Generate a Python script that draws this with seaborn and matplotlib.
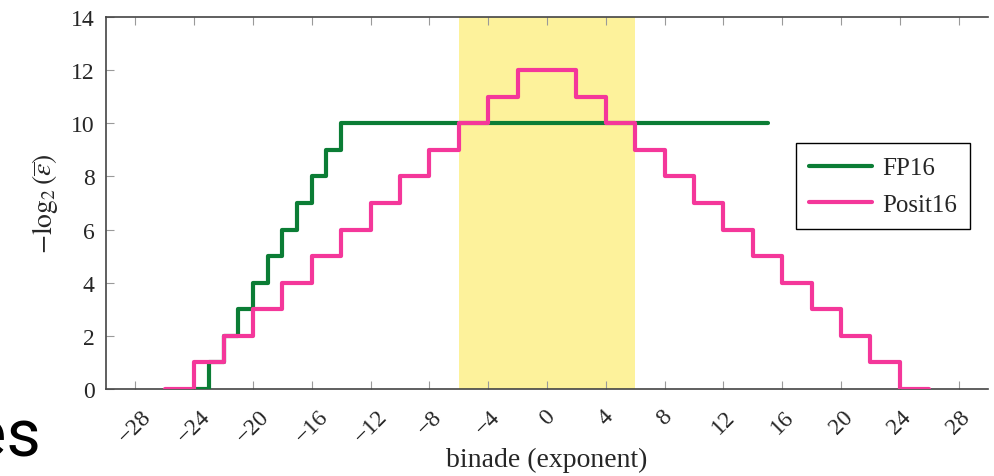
import matplotlib
matplotlib.use("Agg")
import matplotlib.pyplot as plt
import seaborn as sns
import pandas as pd

# ---- data ----
fp16_binade = [-24, -23, -22, -21, -20, -19, -18, -17, -16, -15, -14, 15]
fp16_bits = [0, 1, 2, 3, 4, 5, 6, 7, 8, 9, 10, 10]

posit16_binade = [-26, -24, -22, -20, -18, -16, -14, -12, -10, -8, -6, -4, -2,
                  2, 4, 6, 8, 10, 12, 14, 16, 18, 20, 22, 24, 26]
posit16_bits = [0, 1, 2, 3, 4, 5, 6, 7, 8, 9, 10, 11, 12,
                11, 10, 9, 8, 7, 6, 5, 4, 3, 2, 1, 0, 0]

highlight_range = [-6, 6]
x_ticks = list(range(-28, 29, 4))
y_ticks = list(range(0, 15, 2))
series_names = ["FP16", "Posit16"]
colors = {"FP16": "#0b7d35", "Posit16": "#f4379a"}

df = pd.concat([
    pd.DataFrame({"binade": fp16_binade, "bits": fp16_bits, "format": "FP16"}),
    pd.DataFrame({"binade": posit16_binade, "bits": posit16_bits, "format": "Posit16"}),
], ignore_index=True)

sns.set_theme(style="white")
plt.rcParams["font.family"] = ["Liberation Serif", "DejaVu Serif"]
plt.rcParams["mathtext.fontset"] = "stix"

fig = plt.figure(figsize=(9.94, 4.77), dpi=100)
ax = fig.add_axes([0.1066, 0.1824, 0.8874, 0.7796])

ax.axvspan(highlight_range[0], highlight_range[1], color="#fdf29b", lw=0, zorder=0)

sns.lineplot(data=df, x="binade", y="bits", hue="format", hue_order=series_names,
             palette=colors, drawstyle="steps-post", linewidth=3.0, ax=ax,
             sort=False, estimator=None, zorder=3)

ax.set_xlim(-30, 30)
ax.set_ylim(0, 14)
ax.set_xticks(x_ticks)
ax.set_xticklabels([("\u2212%d" % -t) if t < 0 else str(t) for t in x_ticks],
                   rotation=45, ha="center", va="top", fontsize=17)
ax.set_yticks(y_ticks)
ax.set_yticklabels([str(t) for t in y_ticks], fontsize=17)

ax.tick_params(axis="x", which="both", direction="in", top=True, bottom=True,
               length=6, width=0.8, color="#9a9a9a", pad=12)
ax.tick_params(axis="y", which="both", direction="in", left=True, right=False,
               length=6, width=0.8, color="#9a9a9a", pad=8)

for side in ["left", "top", "bottom"]:
    ax.spines[side].set_color("#444444")
    ax.spines[side].set_linewidth(1.2)
ax.spines["right"].set_visible(False)

ax.set_xlabel("binade (exponent)", fontsize=20, labelpad=0)
ax.set_ylabel(r"$-\log_2(\overline{\epsilon})$", fontsize=20, labelpad=8)

leg = ax.legend(loc="upper right", bbox_to_anchor=(0.98, 0.661), borderaxespad=0,
                fontsize=18, frameon=True, fancybox=False, handlelength=2.5,
                handletextpad=0.4, borderpad=0.55, labelspacing=0.55)
leg.get_frame().set_edgecolor("black")
leg.get_frame().set_linewidth(1.0)
leg.get_frame().set_alpha(1)

fig.text(0.041, 0.042, "es", fontsize=48, family="Roboto", ha="right", va="baseline",
         color="black")

fig.savefig("out.png", dpi=100)
